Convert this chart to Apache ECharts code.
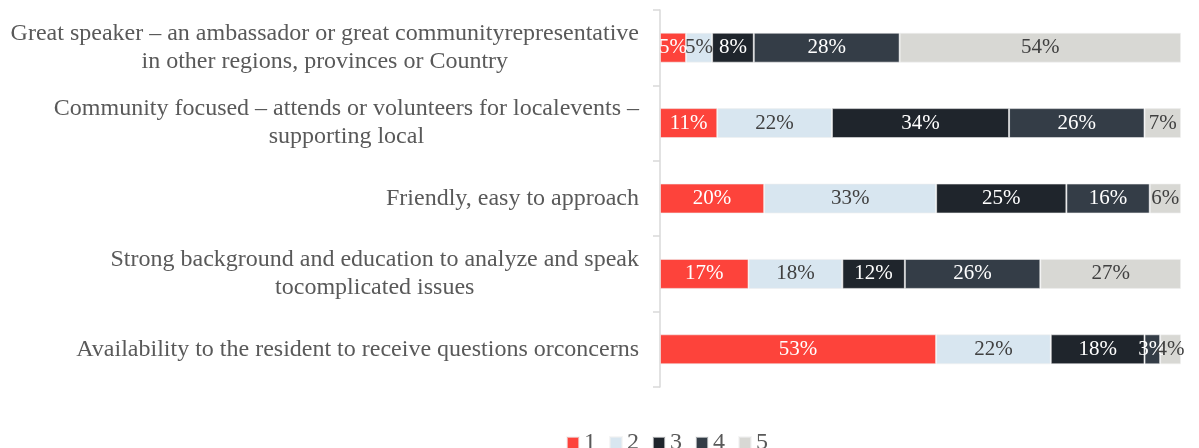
<!DOCTYPE html>
<html>
<head>
<meta charset="utf-8">
<script src="https://cdn.jsdelivr.net/npm/echarts@6/dist/echarts.min.js"></script>
<style>html,body{margin:0;padding:0;background:#fff}#c{width:1199px;height:448px}</style>
</head>
<body>
<div id="c"></div>
<script>
const categories = [
  "Great speaker – an ambassador or great communityrepresentative\nin other regions, provinces or Country",
  "Community focused – attends or volunteers for localevents –\nsupporting local",
  "Friendly, easy to approach",
  "Strong background and education to analyze and speak\ntocomplicated issues",
  "Availability to the resident to receive questions orconcerns"
];
const seriesNames = ["1", "2", "3", "4", "5"];
const s1 = [5, 11, 20, 17, 53];
const s2 = [5, 22, 33, 18, 22];
const s3 = [8, 34, 25, 12, 18];
const s4 = [28, 26, 16, 26, 3];
const s5 = [54, 7, 6, 27, 4];
const values = [s1, s2, s3, s4, s5];
const colors = ["#fd433b", "#d8e6f0", "#1f252c", "#343d47", "#d8d8d4"];
const labelColors = ["#ffffff", "#404040", "#ffffff", "#ffffff", "#404040"];
const FONT = "'Liberation Serif', 'Times New Roman', serif";

const chart = echarts.init(document.getElementById('c'));
chart.setOption({
  animation: false,
  textStyle: { fontFamily: FONT },
  grid: { left: 660, right: 18, top: 10, bottom: 61 },
  legend: {
    top: 426,
    left: 561,
    itemWidth: 12,
    itemHeight: 12,
    itemGap: 13,
    icon: 'rect',
    textStyle: { fontFamily: FONT, fontSize: 24, color: '#595959', padding: [0, 0, 0, 0] },
    data: seriesNames
  },
  xAxis: {
    type: 'value', min: 0, max: 100, show: false
  },
  yAxis: {
    type: 'category',
    inverse: true,
    data: categories,
    axisLine: { show: true, lineStyle: { color: '#d9d9d9', width: 1.5 } },
    axisTick: { show: true, length: 7, lineStyle: { color: '#d9d9d9', width: 1.5 } },
    axisLabel: {
      margin: 21,
      fontFamily: FONT,
      fontSize: 24,
      color: '#595959',
      lineHeight: 28,
      formatter: v => v.split('\n').map(l => '{c|' + l + '}').join('\n'),
      rich: { c: { align: 'center', fontFamily: FONT, fontSize: 24, color: '#595959', lineHeight: 28 } }
    }
  },
  series: seriesNames.map((n, i) => ({
    name: n,
    type: 'bar',
    stack: 'total',
    barWidth: 30,
    data: values[i],
    itemStyle: { color: colors[i], borderColor: 'rgba(240,240,240,0.6)', borderWidth: 1 },
    label: {
      show: true,
      position: 'inside',
      formatter: p => p.value + '%',
      fontFamily: FONT,
      fontSize: 21,
      color: labelColors[i]
    }
  }))
});
</script>
</body>
</html>
